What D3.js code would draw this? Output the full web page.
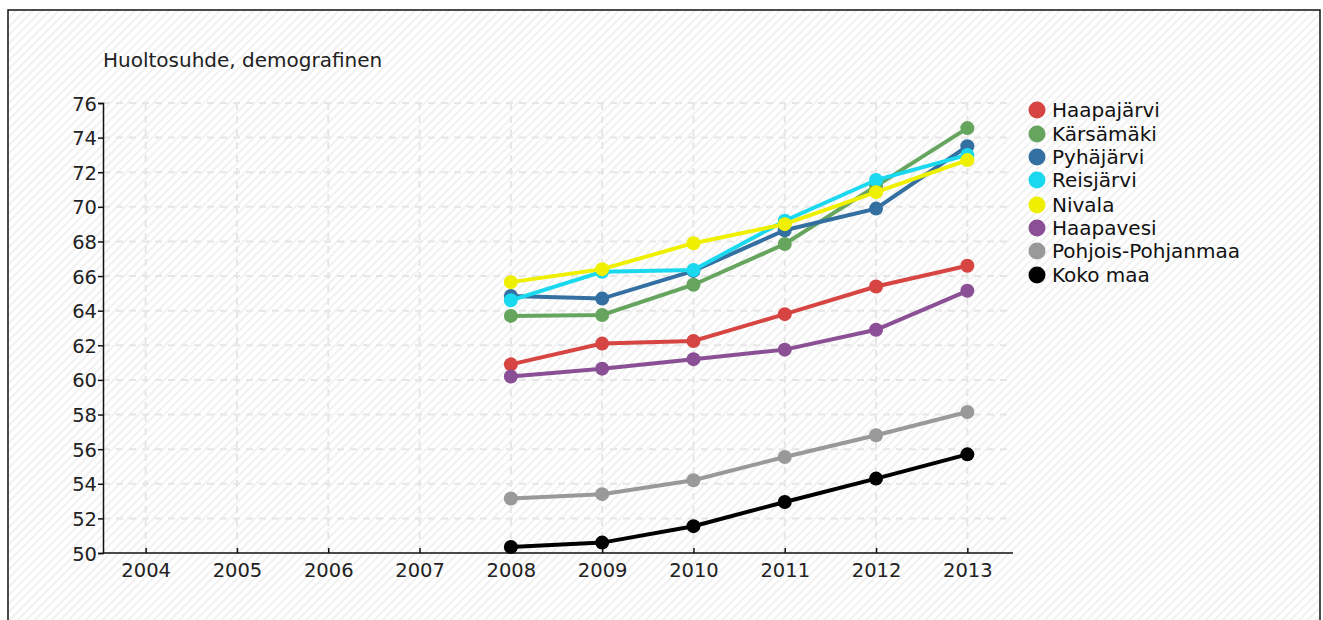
<!DOCTYPE html>
<html>
<head>
<meta charset="utf-8">
<script src="https://cdn.jsdelivr.net/npm/d3@7"></script>
<style>
  html, body { margin: 0; padding: 0; background: #fff; }
  svg { display: block; font-family: "DejaVu Sans", sans-serif; }
</style>
</head>
<body>
<div id="chart"></div>
<script>
  // data
  var years = ["2004", "2005", "2006", "2007", "2008", "2009", "2010", "2011", "2012", "2013"];
  var dataYears = ["2008", "2009", "2010", "2011", "2012", "2013"];
  var yTicks = [50, 52, 54, 56, 58, 60, 62, 64, 66, 68, 70, 72, 74, 76];

  var names = ["Haapajärvi", "Kärsämäki", "Pyhäjärvi", "Reisjärvi", "Nivala", "Haapavesi", "Pohjois-Pohjanmaa", "Koko maa"];
  var colors = ["#d64541", "#65a55e", "#336fa0", "#1ad8ee", "#eef000", "#8a4f94", "#999999", "#000000"];

  var haapajarvi = [60.9, 62.1, 62.25, 63.8, 65.4, 66.6];
  var karsamaki = [63.7, 63.75, 65.5, 67.85, 71.2, 74.55];
  var pyhajarvi = [64.85, 64.7, 66.3, 68.65, 69.9, 73.5];
  var reisjarvi = [64.6, 66.25, 66.35, 69.2, 71.55, 73.0];
  var nivala = [65.65, 66.4, 67.9, 69.0, 70.85, 72.7];
  var haapavesi = [60.2, 60.65, 61.2, 61.75, 62.9, 65.15];
  var pohjoisPohjanmaa = [53.15, 53.4, 54.2, 55.55, 56.8, 58.15];
  var kokoMaa = [50.35, 50.6, 51.55, 52.95, 54.3, 55.7];

  var seriesValues = [haapajarvi, karsamaki, pyhajarvi, reisjarvi, nivala, haapavesi, pohjoisPohjanmaa, kokoMaa];

(function () {
  "use strict";

  var W = 1323, H = 620;
  var svg = d3.select("#chart").append("svg")
      .attr("width", W)
      .attr("height", H);

  // striped background
  var defs = svg.append("defs");
  var pat = defs.append("pattern")
      .attr("id", "stripes")
      .attr("patternUnits", "userSpaceOnUse")
      .attr("width", 6)
      .attr("height", 6)
      .attr("patternTransform", "rotate(45)");
  pat.append("rect").attr("width", 6).attr("height", 6).attr("fill", "#ffffff");
  pat.append("rect").attr("width", 2).attr("height", 6).attr("fill", "#f1f1f1");

  svg.append("rect")
      .attr("x", 8).attr("y", 10)
      .attr("width", 1312).attr("height", 620)
      .attr("fill", "url(#stripes)")
      .attr("stroke", "#111")
      .attr("stroke-width", 1.5);

  var mLeft = 103, mRight = 1013, mTop = 103, mBottom = 553;

  var x = d3.scalePoint().domain(years).range([100, 1013]).padding(0.5);
  var y = d3.scaleLinear().domain([50, 76]).range([mBottom, mTop]);

  // grid
  var grid = svg.append("g").attr("stroke", "#e6e6e6").attr("stroke-width", 2)
      .attr("stroke-dasharray", "7,6");
  grid.selectAll("line.h").data(yTicks.slice(1)).enter().append("line")
      .attr("x1", mLeft).attr("x2", mRight)
      .attr("y1", function(d) { return y(d); })
      .attr("y2", function(d) { return y(d); });
  grid.selectAll("line.v").data(years).enter().append("line")
      .attr("x1", function(d) { return x(d); })
      .attr("x2", function(d) { return x(d); })
      .attr("y1", mTop).attr("y2", mBottom);

  // axes
  var yAxis = svg.append("g")
      .attr("transform", "translate(" + mLeft + ",0)")
      .call(d3.axisLeft(y).tickValues(yTicks).tickSize(5).tickPadding(1).tickFormat(d3.format("d")));
  var xAxis = svg.append("g")
      .attr("transform", "translate(0," + mBottom + ")")
      .call(d3.axisBottom(x).tickSizeInner(-5).tickSizeOuter(0).tickPadding(6));
  xAxis.select(".domain").attr("d", "M" + mLeft + ",0H" + mRight);
  [xAxis, yAxis].forEach(function(a) {
    a.select(".domain").attr("stroke", "#111").attr("stroke-width", 1.5);
    a.selectAll(".tick line").attr("stroke", "#111").attr("stroke-width", 1.5);
    a.selectAll(".tick text").attr("fill", "#222").style("font-size", "19.5px")
        .style("font-family", "DejaVu Sans, sans-serif");
  });
  xAxis.selectAll(".tick text").attr("dy", "0.9em");
  yAxis.selectAll(".tick text").attr("dy", "0.36em");

  // title
  svg.append("text")
      .attr("x", mLeft).attr("y", 67)
      .attr("fill", "#222")
      .style("font-size", "20px")
      .text("Huoltosuhde, demografinen");

  // lines
  var line = d3.line()
      .x(function(d, i) { return x(dataYears[i]); })
      .y(function(d) { return y(d); });

  var series = svg.append("g").selectAll("g.series")
      .data(seriesValues).enter().append("g")
      .attr("class", "series");

  series.append("path")
      .attr("d", function(d) { return line(d); })
      .attr("fill", "none")
      .attr("stroke", function(d, i) { return colors[i]; })
      .attr("stroke-width", 4);

  series.each(function(vals, si) {
    d3.select(this).selectAll("circle").data(vals).enter().append("circle")
        .attr("cx", function(d, i) { return x(dataYears[i]); })
        .attr("cy", function(d) { return y(d); })
        .attr("r", 7)
        .attr("fill", colors[si]);
  });

  // legend
  var legendY = [110, 134, 157, 180, 205, 228, 251, 275];
  var legend = svg.append("g").selectAll("g.leg")
      .data(names).enter().append("g")
      .attr("transform", function(d, i) { return "translate(1037," + legendY[i] + ")"; });
  legend.append("circle")
      .attr("r", 8.5)
      .attr("fill", function(d, i) { return colors[i]; });
  legend.append("text")
      .attr("x", 15).attr("dy", "0.33em")
      .attr("fill", "#111")
      .style("font-size", "20px")
      .text(function(d) { return d; });
}());
</script>
</body>
</html>
